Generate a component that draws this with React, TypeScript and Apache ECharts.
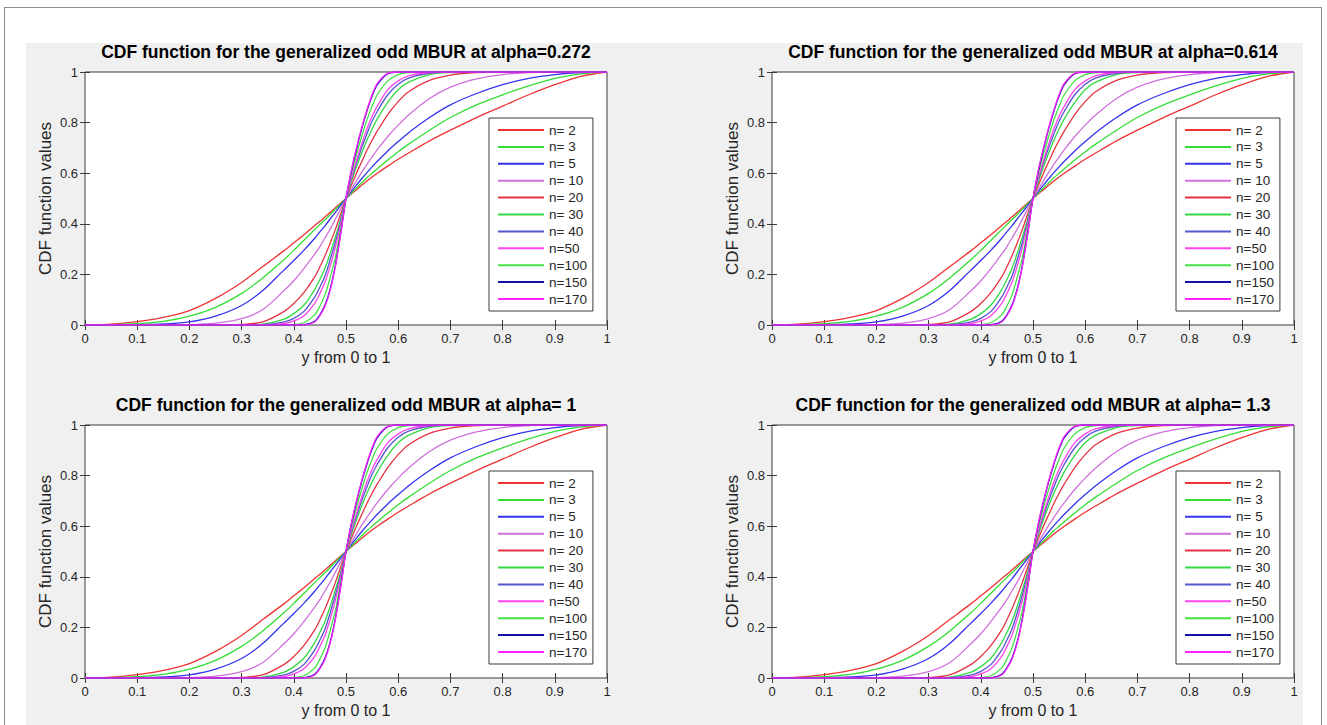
import { useEffect, useRef } from "react";
import * as echarts from "echarts";

// x positions (y from 0 to 1) at which the curves were read
const X_VALUES = [0, 0.05, 0.1, 0.15, 0.2, 0.25, 0.3, 0.34, 0.38, 0.4, 0.42, 0.44, 0.45, 0.46, 0.47, 0.48, 0.49, 0.5,
  0.51, 0.52, 0.53, 0.54, 0.55, 0.56, 0.58, 0.6, 0.62, 0.66, 0.7, 0.75, 0.8, 0.85, 0.9, 0.95, 1];

const N_LABELS = ["n= 2", "n= 3", "n= 5", "n= 10", "n= 20", "n= 30", "n= 40", "n=50", "n=100", "n=150", "n=170"];

const SERIES_COLORS = ["#ee3333", "#33dd33", "#3333ee", "#d070dd", "#e63344", "#33d844", "#5555cc", "#ff44ee", "#44e044", "#1111aa", "#ff22ff"];

const CDF_N2 = [0, 0.003, 0.013, 0.03, 0.057, 0.105, 0.168, 0.23, 0.292, 0.325, 0.358, 0.393, 0.41, 0.428, 0.446, 0.464, 0.482, 0.5,
  0.518, 0.535, 0.552, 0.569, 0.585, 0.6, 0.628, 0.655, 0.68, 0.728, 0.77, 0.82, 0.865, 0.91, 0.95, 0.983, 1];
const CDF_N3 = [0, 0.001, 0.005, 0.014, 0.035, 0.07, 0.125, 0.185, 0.256, 0.295, 0.336, 0.377, 0.397, 0.417, 0.437, 0.458, 0.479, 0.5,
  0.521, 0.542, 0.562, 0.582, 0.6, 0.618, 0.652, 0.685, 0.715, 0.77, 0.82, 0.87, 0.91, 0.945, 0.975, 0.993, 1];
const CDF_N5 = [0, 0, 0.001, 0.004, 0.012, 0.035, 0.077, 0.135, 0.215, 0.255, 0.297, 0.343, 0.368, 0.393, 0.42, 0.446, 0.473, 0.5,
  0.527, 0.553, 0.578, 0.602, 0.625, 0.647, 0.688, 0.725, 0.76, 0.82, 0.87, 0.915, 0.95, 0.975, 0.99, 0.998, 1];
const CDF_N10 = [0, 0, 0, 0, 0.001, 0.007, 0.025, 0.06, 0.133, 0.175, 0.225, 0.28, 0.31, 0.345, 0.38, 0.42, 0.46, 0.5,
  0.535, 0.57, 0.603, 0.635, 0.665, 0.693, 0.745, 0.79, 0.83, 0.895, 0.94, 0.973, 0.99, 0.998, 1, 1, 1];
const CDF_N20 = [0, 0, 0, 0, 0, 0, 0.002, 0.012, 0.052, 0.085, 0.13, 0.19, 0.23, 0.275, 0.325, 0.38, 0.44, 0.5,
  0.55, 0.6, 0.645, 0.69, 0.73, 0.767, 0.832, 0.883, 0.922, 0.967, 0.988, 0.998, 1, 1, 1, 1, 1];
const CDF_N30 = [0, 0, 0, 0, 0, 0, 0, 0.003, 0.022, 0.045, 0.08, 0.14, 0.18, 0.225, 0.285, 0.35, 0.42, 0.5,
  0.565, 0.625, 0.68, 0.73, 0.775, 0.815, 0.88, 0.93, 0.96, 0.99, 0.998, 1, 1, 1, 1, 1, 1];
const CDF_N40 = [0, 0, 0, 0, 0, 0, 0, 0.001, 0.011, 0.026, 0.055, 0.11, 0.15, 0.195, 0.26, 0.33, 0.41, 0.5,
  0.575, 0.64, 0.7, 0.755, 0.805, 0.845, 0.91, 0.952, 0.976, 0.995, 1, 1, 1, 1, 1, 1, 1];
const CDF_N50 = [0, 0, 0, 0, 0, 0, 0, 0, 0.005, 0.016, 0.038, 0.085, 0.125, 0.17, 0.235, 0.31, 0.4, 0.5,
  0.58, 0.65, 0.715, 0.775, 0.825, 0.865, 0.93, 0.965, 0.985, 0.998, 1, 1, 1, 1, 1, 1, 1];
const CDF_N100 = [0, 0, 0, 0, 0, 0, 0, 0, 0, 0.002, 0.01, 0.04, 0.075, 0.12, 0.19, 0.27, 0.38, 0.5,
  0.595, 0.675, 0.745, 0.81, 0.865, 0.91, 0.965, 0.99, 0.998, 1, 1, 1, 1, 1, 1, 1, 1];
const CDF_N150 = [0, 0, 0, 0, 0, 0, 0, 0, 0, 0, 0.001, 0.015, 0.04, 0.08, 0.145, 0.24, 0.365, 0.5,
  0.605, 0.695, 0.775, 0.845, 0.905, 0.95, 0.993, 1, 1, 1, 1, 1, 1, 1, 1, 1, 1];
const CDF_N170 = [0, 0, 0, 0, 0, 0, 0, 0, 0, 0, 0, 0.012, 0.037, 0.075, 0.14, 0.235, 0.36, 0.5,
  0.61, 0.7, 0.78, 0.85, 0.91, 0.955, 0.995, 1, 1, 1, 1, 1, 1, 1, 1, 1, 1];

const CURVES = [CDF_N2, CDF_N3, CDF_N5, CDF_N10, CDF_N20, CDF_N30, CDF_N40, CDF_N50, CDF_N100, CDF_N150, CDF_N170];

const PANEL_TITLES = [
  "CDF function for the generalized odd MBUR at alpha=0.272",
  "CDF function for the generalized odd MBUR at alpha=0.614",
  "CDF function for the generalized odd MBUR at alpha= 1",
  "CDF function for the generalized odd MBUR at alpha= 1.3",
];

const X_AXIS_NAME = "y from 0 to 1";
const Y_AXIS_NAME = "CDF function values";

const PANELS = [
  { left: 85, top: 72 },
  { left: 772, top: 72 },
  { left: 85, top: 425 },
  { left: 772, top: 425 },
];
const PLOT_W = 522;
const PLOT_H = 253;
const FONT = '"Liberation Sans", Arial, Helvetica, sans-serif';
const AXIS_COLOR = "#3a3a3a";
const TEXT_COLOR = "#262626";

function buildOption() {
  const grid: any[] = [];
  const xAxis: any[] = [];
  const yAxis: any[] = [];
  const series: any[] = [];
  const legend: any[] = [];
  const graphic: any[] = [];

  PANELS.forEach((p, i) => {
    grid.push({
      left: p.left, top: p.top, width: PLOT_W, height: PLOT_H,
      show: true, backgroundColor: "#ffffff", borderColor: AXIS_COLOR, borderWidth: 1,
    });
    const tick = { show: true, inside: true, length: 5, lineStyle: { color: AXIS_COLOR, width: 1 } };
    xAxis.push({
      type: "value", gridIndex: i, min: 0, max: 1, interval: 0.1, position: "bottom",
      axisLine: { show: false }, axisTick: tick, splitLine: { show: false },
      axisLabel: { margin: 7, fontSize: 13, color: TEXT_COLOR, fontFamily: FONT },
      name: X_AXIS_NAME, nameLocation: "middle", nameGap: 24,
      nameTextStyle: { fontSize: 16, color: TEXT_COLOR, fontFamily: FONT },
    });
    xAxis.push({
      type: "value", gridIndex: i, min: 0, max: 1, interval: 0.1, position: "top",
      axisLine: { show: false }, axisTick: tick, splitLine: { show: false }, axisLabel: { show: false },
    });
    yAxis.push({
      type: "value", gridIndex: i, min: 0, max: 1, interval: 0.2, position: "left",
      axisLine: { show: false }, axisTick: tick, splitLine: { show: false },
      axisLabel: { margin: 7, fontSize: 13, color: TEXT_COLOR, fontFamily: FONT },
      name: Y_AXIS_NAME, nameLocation: "middle", nameGap: 31,
      nameTextStyle: { fontSize: 17, color: TEXT_COLOR, fontFamily: FONT },
    });
    yAxis.push({
      type: "value", gridIndex: i, min: 0, max: 1, interval: 0.2, position: "right",
      axisLine: { show: false }, axisTick: tick, splitLine: { show: false }, axisLabel: { show: false },
    });

    CURVES.forEach((vals, k) => {
      series.push({
        type: "line", name: N_LABELS[k], xAxisIndex: 2 * i, yAxisIndex: 2 * i,
        data: X_VALUES.map((x, j) => [x, vals[j]]),
        symbol: "none", smooth: 0.3,
        lineStyle: { color: SERIES_COLORS[k], width: 1.3 },
        itemStyle: { color: SERIES_COLORS[k] },
        emphasis: { disabled: true },
      });
    });

    legend.push({
      orient: "vertical", left: p.left + 404, top: p.top + 46,
      data: N_LABELS, icon: "rect", itemWidth: 46, itemHeight: 2, itemGap: 2.9,
      backgroundColor: "#ffffff", borderColor: AXIS_COLOR, borderWidth: 1, borderRadius: 0,
      padding: [5, 6, 5, 9],
      textStyle: { fontSize: 13.5, lineHeight: 14, color: TEXT_COLOR, fontFamily: FONT },
      selectedMode: false,
    });

    graphic.push({
      type: "text", x: p.left + PLOT_W / 2, y: p.top - 20,
      style: {
        text: PANEL_TITLES[i], fill: "#000000",
        font: `bold 17.5px ${FONT}`, align: "center", verticalAlign: "middle",
      },
    });
  });

  return {
    animation: false,
    textStyle: { fontFamily: FONT },
    grid, xAxis, yAxis, series, legend, graphic,
  };
}

export default function App() {
  const ref = useRef<HTMLDivElement>(null);
  useEffect(() => {
    if (!ref.current) return;
    const chart = echarts.init(ref.current, undefined, { renderer: "svg" });
    chart.setOption(buildOption());
    return () => chart.dispose();
  }, []);
  return (
    <div style={{ position: "fixed", left: 0, top: 0, width: 1327, height: 725, background: "#ffffff", overflow: "hidden" }}>
      <div style={{ position: "absolute", left: 4, top: 7, width: 1316, height: 740, border: "1px solid #8c8c8c" }} />
      <div style={{ position: "absolute", left: 26, top: 43, width: 1277, height: 700, background: "#f0f0f0" }} />
      <div ref={ref} style={{ position: "absolute", left: 0, top: 0, width: 1327, height: 725 }} />
    </div>
  );
}
